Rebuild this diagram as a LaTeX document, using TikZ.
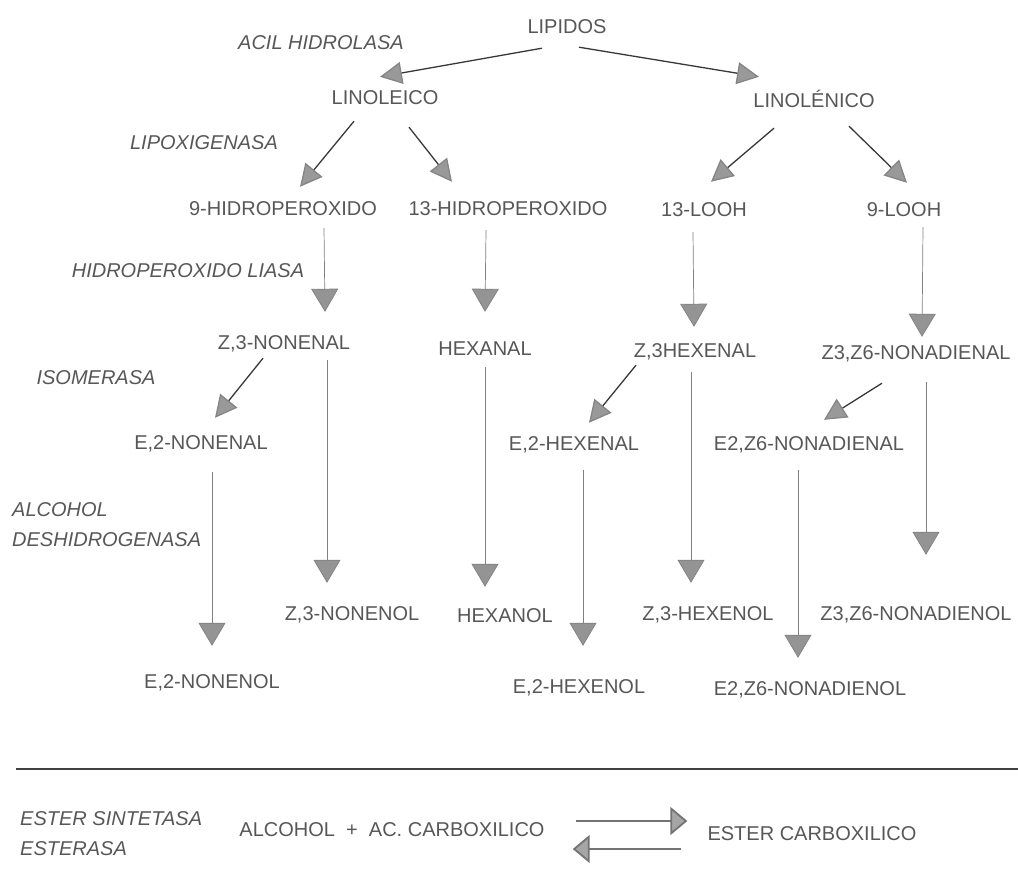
\documentclass[tikz,border=0pt]{standalone}
\usepackage{fontspec}
\setmainfont{Liberation Sans}
\usetikzlibrary{calc,arrows.meta}

\tikzset{
	comp/.style={inner sep=0pt, text height=14pt, text depth=0pt, text=black!66, font=\fontsize{20}{24}\selectfont},
	enz/.style={comp, font=\fontsize{20}{24}\selectfont\itshape},
	enzpar/.style={inner sep=0pt, align=left, anchor=west, text=black!66, font=\fontsize{20}{30}\selectfont\itshape},
	diag/.style={line width=1.3pt, draw=black!78, -{Triangle[width=22pt,length=22pt,fill=black!40,color=black!48]}},
	vert/.style={line width=0.7pt, draw=black!50, -{Triangle[width=27pt,length=23pt,fill=black!42,color=black!50]}},
	eqarr/.style={line width=1.8pt, draw=black!55, -{Triangle[width=28pt,length=17pt,fill=black!35,color=black!55]}},
}

\begin{document}
\begin{tikzpicture}[x=1pt, y=-1pt]
			%%%%% START %%%%%
			\useasboundingbox (0,0) rectangle (1018,891);
			
			% enzimas
			\node[enz] (acil) at (321,43) {ACIL HIDROLASA};
			\node[enz] (lipox) at (204,142) {LIPOXIGENASA};
			\node[enz] (liasa) at (188,270) {HIDROPEROXIDO LIASA};
			\node[enz] (isom) at (96,377) {ISOMERASA};
			\node[enzpar] (adh) at (12,525) {ALCOHOL\\DESHIDROGENASA};
			
			% acidos
			\node[comp] (lip) at (567,27) {LIPIDOS};
			\node[comp] (lnl) at (385,98) {LINOLEICO};
			\node[comp] (lnn) at (814,100) {LINOLÉNICO};
			
			% hidroperoxidos
			\node[comp] (hp9) at (283,208) {9-HIDROPEROXIDO};
			\node[comp] (hp13) at (508,208) {13-HIDROPEROXIDO};
			\node[comp] (l13) at (704,209) {13-LOOH};
			\node[comp] (l9) at (904,209) {9-LOOH};
			
			% aldehidos
			\node[comp] (nonenal) at (284,342) {Z,3-NONENAL};
			\node[comp] (hexanal) at (485,348) {HEXANAL};
			\node[comp] (hexenal) at (695,350) {Z,3HEXENAL};
			\node[comp] (nonadienal) at (916,352) {Z3,Z6-NONADIENAL};
			\node[comp] (enonenal) at (201,442) {E,2-NONENAL};
			\node[comp] (ehexenal) at (574,443) {E,2-HEXENAL};
			\node[comp] (enonadienal) at (809,443) {E2,Z6-NONADIENAL};
			
			% alcoholes
			\node[comp] (nonenol) at (352,613) {Z,3-NONENOL};
			\node[comp] (hexanol) at (505,615) {HEXANOL};
			\node[comp] (hexenol) at (708,613) {Z,3-HEXENOL};
			\node[comp] (nonadienol) at (916,613) {Z3,Z6-NONADIENOL};
			\node[comp] (enonenol) at (212,681) {E,2-NONENOL};
			\node[comp] (ehexenol) at (579,686) {E,2-HEXENOL};
			\node[comp] (enonadienol) at (810,688) {E2,Z6-NONADIENOL};
			
			% flechas
			\draw[diag] ($(lip.south)+(-25,14)$) -- ($(lnl.north)+(-5,-14)$);
			\draw[diag] ($(lip.south)+(12,13)$) -- ($(lnn.north)+(-55,-16)$);
			\draw[diag] ($(lnl.south)+(-31,16)$) -- ($(hp9.north)+(17,-14)$);
			\draw[diag] ($(lnl.south)+(24,22)$) -- ($(hp13.north)+(-56,-19)$);
			\draw[diag] ($(lnn.south)+(-40,21)$) -- ($(l13.north)+(7,-20)$);
			\draw[diag] ($(lnn.south)+(35,19)$) -- ($(l9.north)+(3,-19)$);
			
			\draw[vert] ($(hp9.south)+(41,13)$) -- ($(nonenal.north)+(41,-23)$);
			\draw[vert] ($(hp13.south)+(-22,15)$) -- ($(hexanal.north)+(0,-29)$);
			\draw[vert] ($(l13.south)+(-11,16)$) -- ($(hexenal.north)+(-1,-16)$);
			\draw[vert] ($(l9.south)+(19,11)$) -- ($(nonadienal.north)+(6,-8)$);
			
			\draw[diag] ($(nonenal.south)+(-21,9)$) -- ($(enonenal.north)+(14,-17)$);
			\draw[diag] ($(hexenal.south)+(-59,8)$) -- ($(ehexenal.north)+(15,-13)$);
			\draw[diag] ($(nonadienal.south)+(-34,24)$) -- ($(enonadienal.north)+(15,-16)$);
			
			\draw[vert] ($(nonenal.south)+(43,11)$) -- ($(nonenol.north)+(-25,-23)$);
			\draw[vert] ($(hexanal.south)+(0,12)$) -- ($(hexanol.north)+(-20,-21)$);
			\draw[vert] ($(hexenal.south)+(-4,15)$) -- ($(hexenol.north)+(-17,-23)$);
			\draw[vert] ($(nonadienal.south)+(10,23)$) -- ($(nonadienol.north)+(10,-51)$);
			\draw[vert] ($(enonenal.south)+(11,23)$) -- ($(enonenol.north)+(0,-28)$);
			\draw[vert] ($(ehexenal.south)+(9,20)$) -- ($(ehexenol.north)+(4,-33)$);
			\draw[vert] ($(enonadienal.south)+(-11,20)$) -- ($(enonadienol.north)+(-12,-23)$);
			
			% separacion
			\draw[line width=2pt, color=black!75] (16,769) -- (1018,769);
			
			% esterificacion
			\node[enzpar] (ester) at (20,834) {ESTER SINTETASA\\ESTERASA};
			\node[comp] (react) at (392,829) {ALCOHOL\ \ +\ \ AC. CARBOXILICO};
			\node[comp] (prod) at (812,833) {ESTER CARBOXILICO};
			\draw[eqarr] ($(react.east)+(31,-8)$) -- ($(prod.west)+(-20,-12)$);
			\draw[eqarr] ($(prod.west)+(-26,16)$) -- ($(react.east)+(28,20)$);
			
			%%%%% END %%%%%
		\end{tikzpicture}
\end{document}
